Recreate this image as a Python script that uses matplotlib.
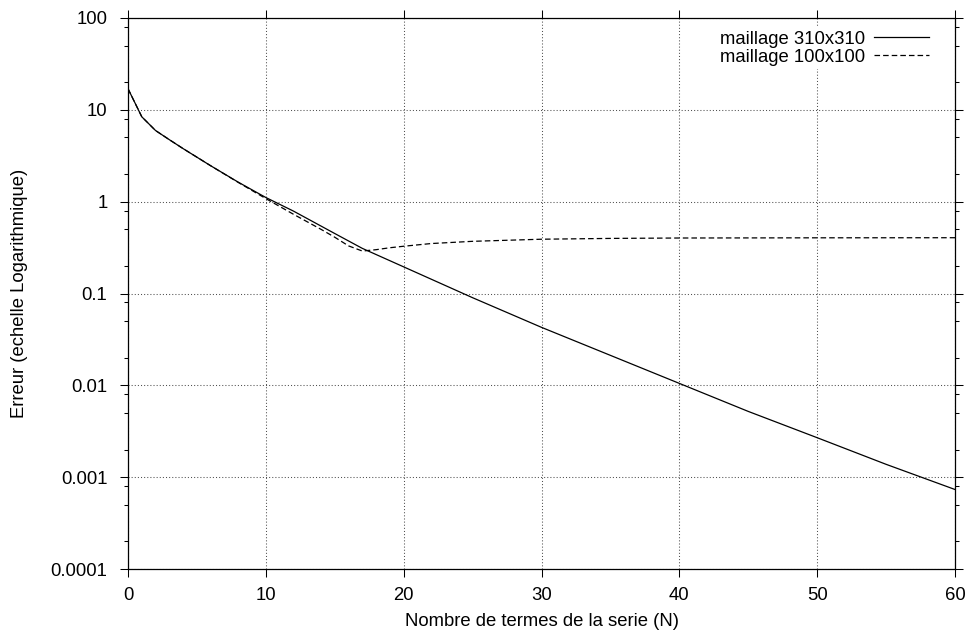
import matplotlib
matplotlib.use('Agg')
import matplotlib.pyplot as plt
from matplotlib.ticker import LogLocator, NullFormatter, FixedFormatter, FixedLocator

plt.rcParams['font.family'] = ['Liberation Sans', 'DejaVu Sans']
plt.rcParams['font.size'] = 13.3
plt.rcParams['lines.scale_dashes'] = False

# mesh 310x310
n_fin = [0, 1, 2, 3, 4, 5, 6, 8, 10, 12, 15, 17, 20, 25, 30, 35, 40, 45, 50, 55, 60]
err_fin = [17.0, 8.4, 5.95, 4.73, 3.78, 3.05, 2.46, 1.63, 1.11, 0.79, 0.45, 0.31, 0.195,
           0.09, 0.0428, 0.0212, 0.0105, 0.0052, 0.00269, 0.00138, 0.000734]

# mesh 100x100
n_gros = [0, 1, 2, 3, 4, 5, 6, 8, 10, 12, 14, 15, 16, 17, 18, 19, 20, 22, 25, 30, 35, 40, 50, 60]
err_gros = [17.0, 8.4, 5.95, 4.73, 3.78, 3.05, 2.46, 1.62, 1.08, 0.73, 0.50, 0.41, 0.33, 0.29,
            0.30, 0.315, 0.327, 0.35, 0.37, 0.39, 0.398, 0.402, 0.404, 0.405]

y_ticks = [1e-4, 1e-3, 1e-2, 1e-1, 1, 10, 100]
y_labels = ['0.0001', '0.001', '0.01', '0.1', '1', '10', '100']

fig = plt.figure(figsize=(9.72, 6.37), dpi=100)
ax = fig.add_axes([128 / 972, 1 - 569 / 637, 827 / 972, 551 / 637])

ax.plot(n_fin, err_fin, color='black', lw=0.9, label='maillage 310x310')
ax.plot(n_gros, err_gros, color='black', lw=0.9, linestyle=(0, (4.0, 2.2)),
        label='maillage 100x100')

ax.set_yscale('log')
ax.set_xlim(0, 60)
ax.set_ylim(1e-4, 100)
ax.set_xticks(range(0, 61, 10))
ax.yaxis.set_major_locator(FixedLocator(y_ticks))
ax.yaxis.set_major_formatter(FixedFormatter(y_labels))
ax.yaxis.set_minor_locator(LogLocator(base=10, subs=(2, 5, 8)))
ax.yaxis.set_minor_formatter(NullFormatter())

ax.tick_params(which='both', direction='out', top=True, right=True, width=0.75)
ax.tick_params(which='major', length=5.8)
ax.tick_params(axis='y', which='major', pad=9)
ax.tick_params(axis='x', which='major', pad=7)
ax.tick_params(which='minor', length=2.9)
for s in ax.spines.values():
    s.set_linewidth(0.9)

ax.grid(True, which='major', color='#505050', lw=0.75, linestyle=(0, (0.75, 1.5)))

ax.set_xlabel('Nombre de termes de la serie (N)', labelpad=7)
ax.set_ylabel('Erreur (echelle Logarithmique)', labelpad=16)

leg = ax.legend(loc='upper right', bbox_to_anchor=(805 / 827, 1 - 9 / 551),
                markerfirst=False, frameon=True, fancybox=False,
                edgecolor='none', facecolor='white', framealpha=1, handlelength=3.0,
                borderaxespad=0, borderpad=0.2, labelspacing=0.05, handletextpad=0.45)
for t in leg.get_texts():
    t.set_ha('right')

fig.savefig('out.png', dpi=100)
